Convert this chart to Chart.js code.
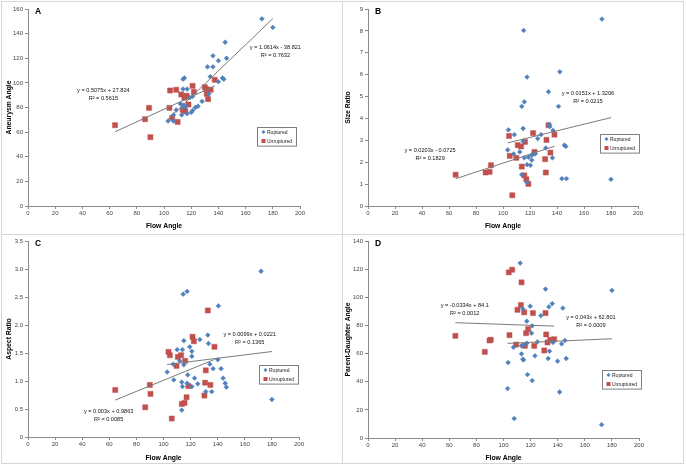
<!DOCTYPE html>
<html>
<head>
<meta charset="utf-8">
<script src="https://cdn.jsdelivr.net/npm/chart.js@4.4.0/dist/chart.umd.min.js"></script>
<style>
html, body { margin: 0; padding: 0; background: #fff; }
#wrap { position: relative; width: 686px; height: 469px; }
.panel { position: absolute; border: 1px solid #d6d6d6; box-sizing: border-box; background: #fff; }
.panel canvas { display: block; }
</style>
</head>
<body>
<div id="wrap">
  <div class="panel" style="left:1px;top:1px;width:342px;height:234px"><canvas id="cA" width="340" height="232"></canvas></div>
  <div class="panel" style="left:342px;top:1px;width:342px;height:234px"><canvas id="cB" width="340" height="232"></canvas></div>
  <div class="panel" style="left:1px;top:234px;width:342px;height:230px"><canvas id="cC" width="340" height="228"></canvas></div>
  <div class="panel" style="left:342px;top:234px;width:342px;height:230px"><canvas id="cD" width="340" height="228"></canvas></div>
</div>
<script>
// flow angle vs. each measure, [x, y] pairs
const rupturedA = [[172,152],[180,145],[145,133],[146,120],[136,122],[140,118],[132,113],[136,113],[134,105],[143,104],[144,103],[140,101],[114,103],[115,104],[114,95],[117,95],[119,88],[121,89],[133,91],[112,83],[114,82],[116,81],[109,78],[123,80],[125,81],[128,85],[107,74],[113,74],[117,75],[120,76],[121,77.5],[103,69],[107,69],[114,80]];
const unrupturedA = [[64,65.6],[86,70.5],[89,79.7],[90,55.9],[104,79.7],[104.5,93.8],[106,71.6],[109,94.4],[110,68.3],[112.7,90.6],[113.7,78.1],[115,87.9],[116,89],[114.7,78],[115.7,77],[116.7,89.5],[118,82.4],[121,97.6],[122,92.7],[130,96.5],[131,94.9],[131.4,91.1],[132.4,86.8],[134.3,94.4],[137.3,102.5]];

const rupturedB = [[115.3,8.02],[173.3,8.54],[117.8,5.89],[142.1,6.13],[133.7,5.22],[115.8,4.76],[113.9,4.55],[141.1,4.55],[114.9,3.54],[104,3.48],[108.4,3.26],[134.2,3.72],[134.7,3.63],[137.1,3.45],[128.2,3.26],[125.7,3.08],[114.9,2.96],[103.5,2.56],[112.4,2.47],[107.9,2.38],[131.7,2.65],[122.3,2.38],[123.8,2.38],[121.3,2.32],[115.8,2.2],[118.8,2.23],[121.3,2.1],[120.3,1.86],[117.8,1.89],[136.6,2.2],[145.5,2.78],[146.5,2.72],[113.9,1.43],[117.8,1.07],[143.6,1.25],[147,1.25],[180,1.22]];
const unrupturedB = [[64.9,1.43],[87.1,1.53],[90.1,1.56],[91.1,1.86],[104.5,3.2],[105,2.29],[106.9,0.49],[109.9,2.2],[110.9,2.78],[113.4,2.72],[113.9,1.8],[116.3,2.93],[115.8,1.4],[117.3,1.22],[118.8,1.01],[122.3,3.33],[123.3,2.47],[132.2,3.02],[131.2,2.14],[131.7,1.53],[133.7,3.69],[135.1,2.44],[138.1,3.26]];

const rupturedC = [[172,2.96],[114.5,2.55],[117.4,2.6],[140.5,2.34],[132.7,1.82],[126.8,1.74],[115,1.72],[133.2,1.67],[110.1,1.56],[114,1.56],[119.4,1.61],[120.9,1.53],[120.9,1.44],[112,1.36],[107.1,1.3],[115,1.29],[134.2,1.3],[140.1,1.38],[102.7,1.16],[117.9,1.11],[136.6,1.22],[142.5,1.22],[122.9,1.05],[107.6,1.02],[113.5,0.98],[117.4,0.96],[120.9,0.9],[114,0.9],[125.3,0.95],[144,1.05],[145.5,0.96],[146.4,0.89],[131.2,0.81],[135.6,0.81],[113.5,0.48],[180,0.67]];
const unrupturedC = [[64.4,0.84],[86.5,0.53],[89.9,0.93],[90.4,0.77],[103.7,1.52],[104.7,1.46],[106.1,0.33],[109.6,1.27],[110.6,1.43],[113,1.46],[113.5,0.59],[115.5,0.61],[116,1.36],[117,0.71],[118.4,0.91],[121.4,1.79],[122.4,1.71],[132.7,2.26],[131.2,1.19],[130.7,0.97],[130.2,0.74],[134.6,0.93],[137.6,1.61]];

const rupturedD = [[112.3,124.3],[131,105.8],[180,104.9],[136,95.5],[133.5,93.2],[119.7,93.7],[114.3,91.8],[143.8,92.3],[127.6,86.9],[117.2,83],[121.2,79.7],[120.7,74.5],[117.2,67.4],[107.4,64.5],[113.3,65.5],[114.3,66],[125,68.3],[136.5,67.9],[142.9,66.9],[145.3,69.3],[134,61.7],[113.3,59.8],[114.3,56],[114.8,55.5],[103.4,53.6],[123.2,58.4],[133,56.5],[146.3,56.5],[139.9,54.6],[117.7,45.1],[121.2,40.8],[141.4,32.7],[103,35.1],[107.9,13.8],[172.4,9.5]];
const unrupturedD = [[64.5,72.6],[86.2,61.2],[89.7,69.3],[90.6,69.8],[103.9,117.7],[106.4,119.6],[113.3,110.6],[104.4,73.1],[109.4,66.4],[110.3,91.1],[112.8,94.5],[115.3,89.3],[115.8,65.5],[116.7,74.5],[118.2,77.4],[121.7,88.8],[122.7,65.5],[130.1,62.2],[131,88.8],[131.5,73.6],[132.5,67.9],[134.5,69.8],[137.4,70.2]];

// linear trendlines [slope, intercept, R²] for ruptured, unruptured
const trendA = [[1.0614, -38.821, 0.7632], [0.5075, 27.824, 0.5615]];
const trendB = [[0.0151, 1.3206, 0.0215], [0.0203, -0.0725, 0.1829]];
const trendC = [[0.003, 0.9863, 0.0085], [0.0099, 0.0221, 0.1365]];
const trendD = [[0.043, 62.801, 0.0009], [-0.0334, 84.1, 0.0012]];

const xTicks = [0, 200, 20];
const seriesNames = ['Ruptured', 'Unruptured'];

const BLUE = '#4f81bd';
const RED = '#c0504d';
const AXIS = '#8a8a8a';
const FONT = "'Liberation Sans', Arial, sans-serif";

const panels = [
  { id: 'cA', letter: 'A', yTitle: 'Aneurysm Angle', yMax: 160, yStep: 20, rup: rupturedA, unr: unrupturedA, trend: trendA,
    eqPos: [[181.9, 129.1], [55.4, 93.8]], legend: [255, 125], pad: { left: 0, right: 42, top: 7, bottom: 0 },
    yWidth: 26, xHeight: 28, yTitlePad: 3.5, xTitlePad: 3.9 },
  { id: 'cB', letter: 'B', yTitle: 'Size Ratio', yMax: 9, yStep: 1, rup: rupturedB, unr: unrupturedB, trend: trendB,
    eqPos: [[162.9, 5.16], [46, 2.56]], legend: [257, 132], pad: { left: 0, right: 45, top: 7, bottom: 0 },
    yWidth: 25, xHeight: 28, yTitlePad: 1.5, xTitlePad: 3.9 },
  { id: 'cC', letter: 'C', yTitle: 'Aspect Ratio', yMax: 3.5, yStep: 0.5, rup: rupturedC, unr: unrupturedC, trend: trendC,
    eqPos: [[59.5, 0.46], [163.6, 1.84]], legend: [257, 130], pad: { left: 0, right: 43, top: 6, bottom: 0 },
    yWidth: 26, xHeight: 26, yTitlePad: 3, xTitlePad: 1.2 },
  { id: 'cD', letter: 'D', yTitle: 'Parent-Daughter Angle', yMax: 140, yStep: 20, rup: rupturedD, unr: unrupturedD, trend: trendD,
    eqPos: [[164.5, 85.9], [71.4, 94.4]], legend: [259, 135], pad: { left: 0, right: 44, top: 6, bottom: 0 },
    yWidth: 25, xHeight: 25, yTitlePad: 1.5, xTitlePad: 1.2 }
];

function trendLine(points, coef) {
  const xs = points.map(p => p[0]);
  const lo = Math.min(...xs), hi = Math.max(...xs);
  return [{ x: lo, y: coef[0] * lo + coef[1] }, { x: hi, y: coef[0] * hi + coef[1] }];
}

function eqText(coef) {
  const b = coef[1] < 0 ? ' - ' + Math.abs(coef[1]) : ' + ' + coef[1];
  return ['y = ' + coef[0] + 'x' + b, 'R\u00b2 = ' + coef[2]];
}

const extras = {
  id: 'extras',
  afterDatasetsDraw(chart, args, opts) {
    const p = opts.panel;
    const { ctx, chartArea, scales } = chart;
    ctx.save();
    // panel letter
    ctx.fillStyle = '#000';
    ctx.font = 'bold 8.5px ' + FONT;
    ctx.textAlign = 'center';
    ctx.textBaseline = 'middle';
    ctx.fillText(p.letter, chartArea.left + 10, chartArea.top + 2.5);

    // trend equations
    ctx.font = '5.6px ' + FONT;
    ctx.fillStyle = '#111';
    p.trend.forEach((coef, i) => {
      const lines = eqText(coef);
      const x = scales.x.getPixelForValue(p.eqPos[i][0]);
      const y = scales.y.getPixelForValue(p.eqPos[i][1]);
      ctx.fillText(lines[0], x, y);
      ctx.fillText(lines[1], x, y + 8);
    });

    // legend box
    const [lx, ly] = p.legend;
    ctx.fillStyle = '#fff';
    ctx.fillRect(lx, ly, 39, 18.6);
    ctx.strokeStyle = '#7f7f7f';
    ctx.lineWidth = 1;
    ctx.strokeRect(lx + 0.5, ly + 0.5, 39, 18.6);
    ctx.font = '5px ' + FONT;
    ctx.textAlign = 'left';
    seriesNames.forEach((name, i) => {
      const cy = ly + 5 + i * 9;
      if (i === 0) {
        ctx.fillStyle = BLUE;
        ctx.beginPath();
        ctx.moveTo(lx + 6.5, cy - 2); ctx.lineTo(lx + 8.5, cy); ctx.lineTo(lx + 6.5, cy + 2); ctx.lineTo(lx + 4.5, cy);
        ctx.closePath();
        ctx.fill();
      } else {
        ctx.fillStyle = RED;
        ctx.fillRect(lx + 4.5, cy - 2, 4, 4);
      }
      ctx.fillStyle = '#222';
      ctx.fillText(name, lx + 10, cy + 0.5);
    });
    ctx.restore();
  }
};

panels.forEach(p => {
  const pts = arr => arr.map(d => ({ x: d[0], y: d[1] }));
  new Chart(document.getElementById(p.id), {
    type: 'scatter',
    data: {
      datasets: [
        { type: 'line', data: trendLine(p.rup, p.trend[0]), borderColor: '#7a7a7a', borderWidth: 1, pointRadius: 0, fill: false },
        { type: 'line', data: trendLine(p.unr, p.trend[1]), borderColor: '#7a7a7a', borderWidth: 1, pointRadius: 0, fill: false },
        { label: seriesNames[0], data: pts(p.rup), pointStyle: 'rectRot', pointRadius: 2.4, backgroundColor: BLUE, borderColor: BLUE, borderWidth: 0.5 },
        { label: seriesNames[1], data: pts(p.unr), pointStyle: 'rect', pointRadius: 3.6, backgroundColor: RED, borderColor: RED, borderWidth: 0.5 }
      ]
    },
    options: {
      responsive: false,
      animation: false,
      layout: { padding: p.pad },
      plugins: { legend: { display: false }, tooltip: { enabled: false }, extras: { panel: p } },
      scales: {
        x: {
          type: 'linear', min: xTicks[0], max: xTicks[1],
          ticks: { stepSize: xTicks[2], font: { size: 6, family: FONT }, color: '#444', padding: 0.5, maxRotation: 0 },
          grid: { drawOnChartArea: false, tickLength: 3, color: AXIS },
          border: { color: AXIS },
          title: { display: true, text: 'Flow Angle', color: '#000', font: { size: 6.8, weight: 'bold', family: FONT }, padding: { top: 0, bottom: p.xTitlePad } },
          afterFit: s => { s.height = p.xHeight; }
        },
        y: {
          min: 0, max: p.yMax,
          ticks: { stepSize: p.yStep, font: { size: 6, family: FONT }, color: '#444', padding: 2 },
          grid: { drawOnChartArea: false, tickLength: 3, color: AXIS },
          border: { color: AXIS },
          title: { display: true, text: p.yTitle, color: '#000', font: { size: 6.8, weight: 'bold', family: FONT }, padding: { top: p.yTitlePad, bottom: 0 } },
          afterFit: s => { s.width = p.yWidth; }
        }
      }
    },
    plugins: [extras]
  });
});
</script>
</body>
</html>
